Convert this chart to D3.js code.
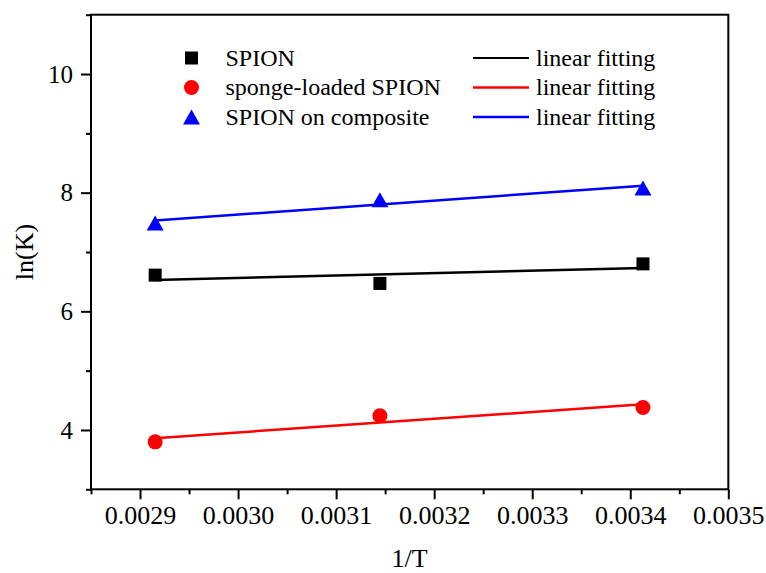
<!DOCTYPE html>
<html>
<head>
<meta charset="utf-8">
<script src="https://cdn.jsdelivr.net/npm/d3@7"></script>
<style>
  html, body { margin: 0; padding: 0; background: #fff; }
  svg { display: block; }
  svg text { font-family: "Liberation Serif", "DejaVu Serif", serif; fill: #000; }
</style>
</head>
<body>
<svg id="chart" width="766" height="573"></svg>
<script>
// Temperatures (K) used for the van 't Hoff plot; x = 1/T
const temperatures = [343, 318, 293];
const invT = temperatures.map(t => 1 / t);

// ln(K) for each sample
const seriesNames = ["SPION", "sponge-loaded SPION", "SPION on composite"];
const lnK_SPION = [6.61, 6.47, 6.80];
const lnK_sponge = [3.80, 4.24, 4.38];
const lnK_composite = [7.49, 7.88, 8.08];

// axis ticks
const xMajorTicks = [0.0029, 0.0030, 0.0031, 0.0032, 0.0033, 0.0034, 0.0035];
const xMinorTicks = [0.00285, 0.00295, 0.00305, 0.00315, 0.00325, 0.00335, 0.00345];
const yMajorTicks = [4, 6, 8, 10];
const yMinorTicks = [3, 5, 7, 9, 11];

const series = [
  { name: seriesNames[0], values: lnK_SPION, color: "#000000", shape: "square", legendLine: 2 },
  { name: seriesNames[1], values: lnK_sponge, color: "#ff0000", shape: "circle", legendLine: 2.5 },
  { name: seriesNames[2], values: lnK_composite, color: "#0000ff", shape: "triangle", legendLine: 2.5 }
];

const FONT = "'Liberation Serif', 'DejaVu Serif', serif";

const svg = d3.select("#chart");
const plotLeft = 91, plotRight = 728.3, plotTop = 14.7, plotBottom = 489.3;

const x = d3.scaleLinear().domain([0.00285, 0.0035]).range([plotLeft, plotRight]);
const y = d3.scaleLinear().domain([3, 11]).range([plotBottom, plotTop]);

// least-squares line through each series
function fit(xs, ys) {
  const mx = d3.mean(xs), my = d3.mean(ys);
  let sxy = 0, sxx = 0;
  xs.forEach((v, i) => { sxy += (v - mx) * (ys[i] - my); sxx += (v - mx) * (v - mx); });
  const slope = sxy / sxx;
  return v => my + slope * (v - mx);
}

// plot frame
svg.append("rect")
  .attr("x", plotLeft).attr("y", plotTop)
  .attr("width", plotRight - plotLeft).attr("height", plotBottom - plotTop)
  .attr("fill", "none").attr("stroke", "#000").attr("stroke-width", 2);

// x axis: major and minor ticks
const xAxisMajor = svg.append("g")
  .attr("transform", `translate(0,${plotBottom})`)
  .call(d3.axisBottom(x).tickValues(xMajorTicks).tickSize(10).tickSizeOuter(0)
        .tickFormat(d3.format(".4f")));
const xAxisMinor = svg.append("g")
  .attr("transform", `translate(0,${plotBottom})`)
  .call(d3.axisBottom(x).tickValues(xMinorTicks).tickSize(5).tickSizeOuter(0).tickFormat(""));

// y axis: major and minor ticks
const yAxisMajor = svg.append("g")
  .attr("transform", `translate(${plotLeft},0)`)
  .call(d3.axisLeft(y).tickValues(yMajorTicks).tickSize(10).tickSizeOuter(0)
        .tickFormat(d3.format("d")));
const yAxisMinor = svg.append("g")
  .attr("transform", `translate(${plotLeft},0)`)
  .call(d3.axisLeft(y).tickValues(yMinorTicks).tickSize(5).tickSizeOuter(0).tickFormat(""));

[xAxisMajor, xAxisMinor, yAxisMajor, yAxisMinor].forEach(g => {
  g.attr("font-family", FONT);
  g.select(".domain").remove();
  g.selectAll(".tick line").attr("stroke", "#000").attr("stroke-width", 2);
});

xAxisMajor.selectAll(".tick text")
  .attr("y", 35).attr("dy", 0)
  .attr("font-size", 26)
  .style("font-family", FONT);

yAxisMajor.selectAll(".tick text")
  .attr("x", -18).attr("dy", "0.33em")
  .attr("font-size", 25)
  .style("font-family", FONT);

// axis titles
svg.append("text")
  .attr("x", (plotLeft + plotRight) / 2).attr("y", 567)
  .attr("text-anchor", "middle")
  .attr("font-size", 26)
  .style("font-family", FONT)
  .text("1/T");

svg.append("text")
  .attr("transform", `translate(33,${(plotTop + plotBottom) / 2}) rotate(-90)`)
  .attr("text-anchor", "middle")
  .attr("font-size", 26)
  .style("font-family", FONT)
  .text("ln(K)");

// marker drawing
function drawMarker(g, shape, cx, cy, color) {
  if (shape === "square") {
    g.append("rect").attr("x", cx - 6.5).attr("y", cy - 6.5)
      .attr("width", 13).attr("height", 13).attr("fill", color);
  } else if (shape === "circle") {
    g.append("circle").attr("cx", cx).attr("cy", cy).attr("r", 7.5).attr("fill", color);
  } else {
    const p = d3.path();
    p.moveTo(cx, cy - 7.5);
    p.lineTo(cx + 8.5, cy + 7.5);
    p.lineTo(cx - 8.5, cy + 7.5);
    p.closePath();
    g.append("path").attr("d", p.toString()).attr("fill", color);
  }
}

// fitted lines and data points
const plot = svg.append("g");
series.forEach(s => {
  const f = fit(invT, s.values);
  const x0 = d3.min(invT), x1 = d3.max(invT);
  plot.append("line")
    .attr("x1", x(x0)).attr("y1", y(f(x0)))
    .attr("x2", x(x1)).attr("y2", y(f(x1)))
    .attr("stroke", s.color).attr("stroke-width", 2.5);
});
series.forEach(s => {
  s.values.forEach((v, i) => drawMarker(plot, s.shape, x(invT[i]), y(v), s.color));
});

// legend
const legend = svg.append("g");
const rowY = [58, 87.5, 117];
series.forEach((s, i) => {
  drawMarker(legend, s.shape, 191.5, rowY[i], s.color);
  legend.append("text")
    .attr("x", 225.5).attr("y", rowY[i]).attr("dy", "0.33em")
    .attr("font-size", 24)
    .style("font-family", FONT)
    .text(s.name);
  legend.append("line")
    .attr("x1", 473).attr("x2", 529)
    .attr("y1", rowY[i]).attr("y2", rowY[i])
    .attr("stroke", s.color).attr("stroke-width", s.legendLine);
  legend.append("text")
    .attr("x", 536).attr("y", rowY[i]).attr("dy", "0.33em")
    .attr("font-size", 24)
    .style("font-family", FONT)
    .text("linear fitting");
});
</script>
</body>
</html>
